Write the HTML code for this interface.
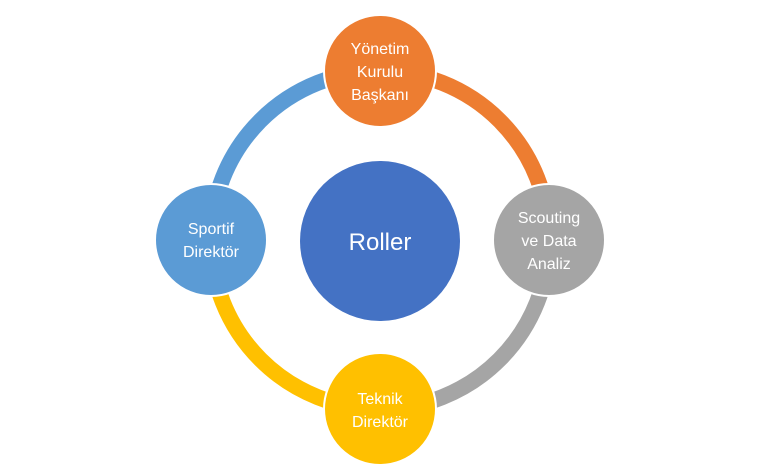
<!DOCTYPE html>
<html><head><style>
html,body{margin:0;padding:0;background:#fff;width:768px;height:473px;overflow:hidden}
text{font-family:"Liberation Sans",sans-serif;fill:#fff;text-anchor:middle}
</style></head><body>
<svg width="768" height="473" viewBox="0 0 768 473">
<g fill="none" stroke-width="16">
<path d="M380 71 A169 169 0 0 1 549 240" stroke="#ED7D31"/>
<path d="M549 240 A169 169 0 0 1 380 409" stroke="#A5A5A5"/>
<path d="M380 409 A169 169 0 0 1 211 240" stroke="#FFC000"/>
<path d="M211 240 A169 169 0 0 1 380 71" stroke="#5B9BD5"/>
</g>
<circle cx="380" cy="241" r="80" fill="#4472C4"/>
<text x="380" y="250" font-size="24">Roller</text>
<g stroke="#fff" stroke-width="2">
<circle cx="380" cy="71" r="56" fill="#ED7D31"/>
<circle cx="549" cy="240" r="56" fill="#A5A5A5"/>
<circle cx="380" cy="409" r="56" fill="#FFC000"/>
<circle cx="211" cy="240" r="56" fill="#5B9BD5"/>
</g>
<g font-size="16">
<text x="380" y="54">Yönetim</text><text x="380" y="77">Kurulu</text><text x="380" y="100">Başkanı</text>
<text x="549" y="223">Scouting</text><text x="549" y="246">ve Data</text><text x="549" y="269">Analiz</text>
<text x="380" y="404">Teknik</text><text x="380" y="427">Direktör</text>
<text x="211" y="234">Sportif</text><text x="211" y="257">Direktör</text>
</g>
</svg>
</body></html>
